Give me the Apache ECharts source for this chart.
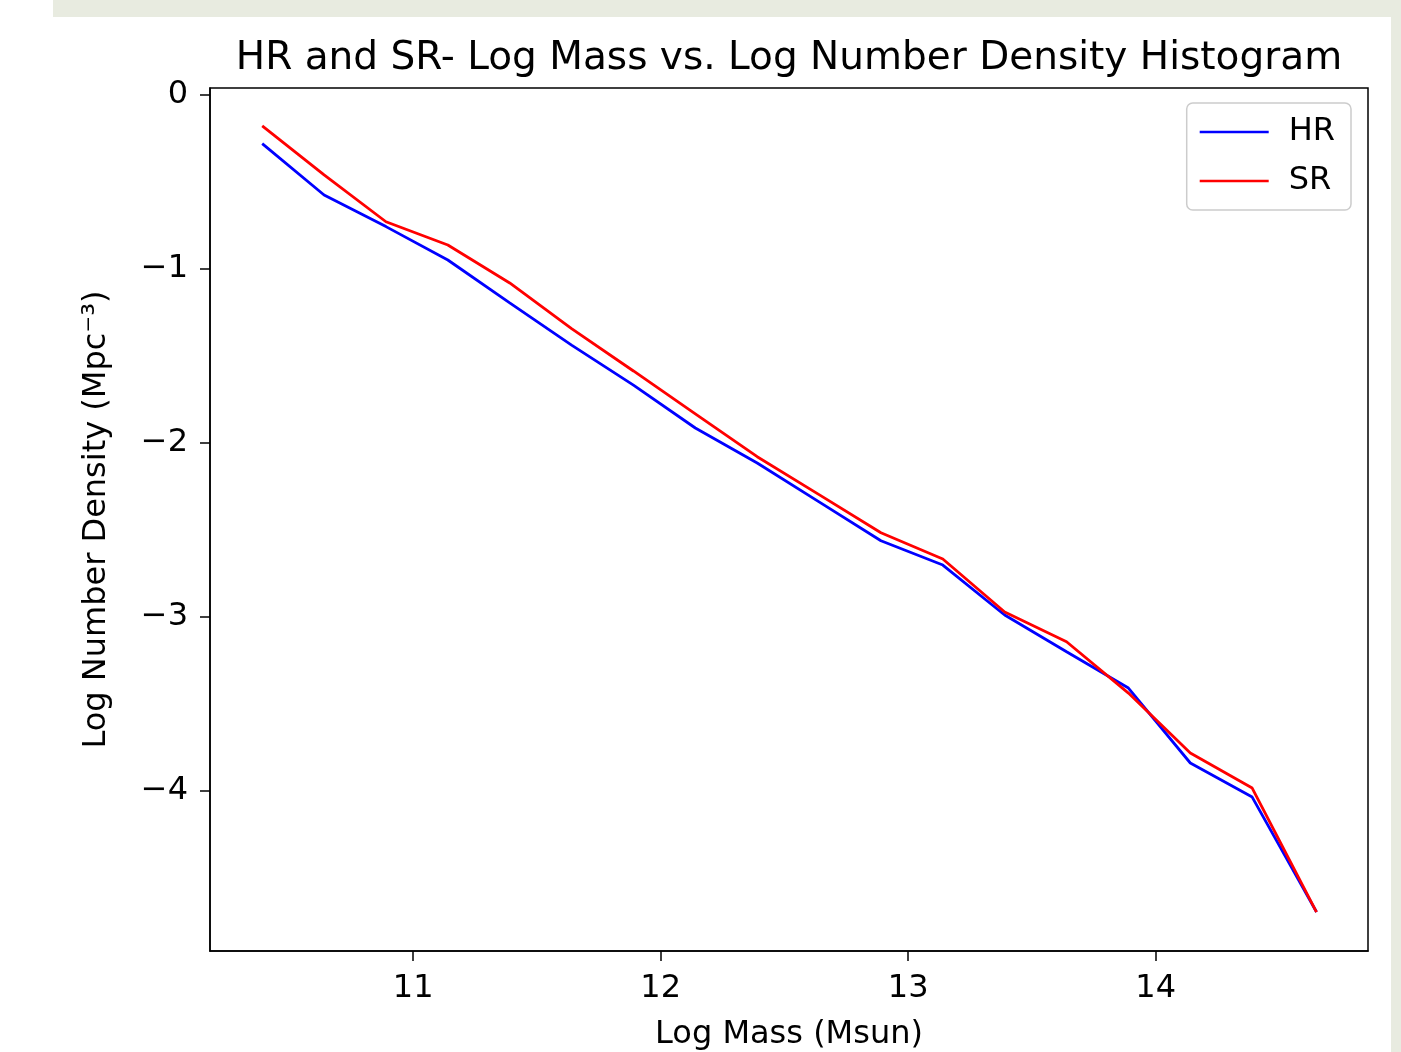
<!DOCTYPE html>
<html>
<head>
<meta charset="utf-8">
<style>
  html, body { margin: 0; padding: 0; background: #fff; }
  #chart { width: 1401px; height: 1052px; }
</style>
<script src="https://cdn.jsdelivr.net/npm/echarts@6/dist/echarts.min.js"></script>
</head>
<body>
<div id="chart"></div>
<script>
// log mass bin centres (Msun)
const massBins = [10.39, 10.64, 10.89, 11.14, 11.39, 11.64, 11.89, 12.14, 12.39,
  12.64, 12.89, 13.14, 13.39, 13.64, 13.89, 14.14, 14.39, 14.65]
// log number density (Mpc^-3)
const hrDensity = [-0.28, -0.575, -0.757, -0.949, -1.196, -1.438, -1.668, -1.915, -2.116,
  -2.34, -2.563, -2.703, -2.99, -3.201, -3.41, -3.841, -4.037, -4.698]
const srDensity = [-0.178, -0.46, -0.729, -0.863, -1.081, -1.344, -1.587, -1.834, -2.08,
  -2.298, -2.517, -2.668, -2.973, -3.144, -3.439, -3.784, -3.985, -4.698]
const xTicks = [11, 12, 13, 14]
const yTicks = [0, -1, -2, -3, -4]

const font = 'DejaVu Sans'
const minus = v => (v < 0 ? '\u2212' + Math.abs(v) : String(v))

const chart = echarts.init(document.getElementById('chart'))
chart.setOption({
  backgroundColor: '#fff',
  animation: false,
  textStyle: { fontFamily: font, color: '#000' },
  title: {
    text: 'HR and SR- Log Mass vs. Log Number Density Histogram',
    left: 784,
    textAlign: 'center',
    top: 34,
    textStyle: { fontFamily: font, fontSize: 39, fontWeight: 'normal', color: '#000' }
  },
  graphic: [
    // greyish frame strips around the figure
    { type: 'rect', shape: { x: 53, y: 0, width: 1348, height: 17 }, style: { fill: '#e8ebe0' } },
    { type: 'rect', shape: { x: 1391, y: 17, width: 10, height: 1035 }, style: { fill: '#e8ebe0' } }
  ],
  legend: {
    orient: 'vertical',
    right: 50,
    top: 103,
    backgroundColor: '#fff',
    borderColor: '#cccccc',
    borderWidth: 1.5,
    borderRadius: 6,
    padding: [13, 16, 13, 13],
    itemGap: 17,
    itemWidth: 69,
    itemHeight: 2.5,
    icon: 'rect',
    textStyle: { fontFamily: font, fontSize: 32, color: '#000', padding: [0, 0, 0, 15] },
    data: ['HR', 'SR']
  },
  grid: {
    left: 210,
    top: 88,
    right: 33,
    bottom: 101,
    outerBoundsMode: 'none',
    containLabel: false,
    show: true,
    borderColor: '#000',
    borderWidth: 1.5
  },
  xAxis: {
    type: 'value',
    min: 10.179,
    max: 14.858,
    name: 'Log Mass (Msun)',
    nameLocation: 'middle',
    nameGap: 68,
    nameTextStyle: { fontFamily: font, fontSize: 32, color: '#000' },
    splitLine: { show: false },
    axisLine: { onZero: false, lineStyle: { color: '#000', width: 1.5 } },
    axisTick: { customValues: xTicks, length: 10, lineStyle: { color: '#000', width: 1.5 } },
    axisLabel: { customValues: xTicks, margin: 22, fontFamily: font, fontSize: 32, color: '#000' }
  },
  yAxis: {
    type: 'value',
    min: -4.922,
    max: 0.04,
    name: 'Log Number Density (Mpc\u207B\u00B3)',
    nameLocation: 'middle',
    nameGap: 97,
    nameTextStyle: { fontFamily: font, fontSize: 32, color: '#000' },
    splitLine: { show: false },
    axisLine: { onZero: false, lineStyle: { color: '#000', width: 1.5 } },
    axisTick: { customValues: yTicks, length: 10, lineStyle: { color: '#000', width: 1.5 } },
    axisLabel: { customValues: yTicks, margin: 22, fontFamily: font, fontSize: 32, color: '#000', formatter: minus }
  },
  series: [
    {
      name: 'HR',
      type: 'line',
      showSymbol: false,
      color: '#0000ff',
      lineStyle: { color: '#0000ff', width: 2.8 },
      data: massBins.map((m, i) => [m, hrDensity[i]])
    },
    {
      name: 'SR',
      type: 'line',
      showSymbol: false,
      color: '#ff0000',
      lineStyle: { color: '#ff0000', width: 2.8 },
      data: massBins.map((m, i) => [m, srDensity[i]])
    }
  ]
})
</script>
</body>
</html>
